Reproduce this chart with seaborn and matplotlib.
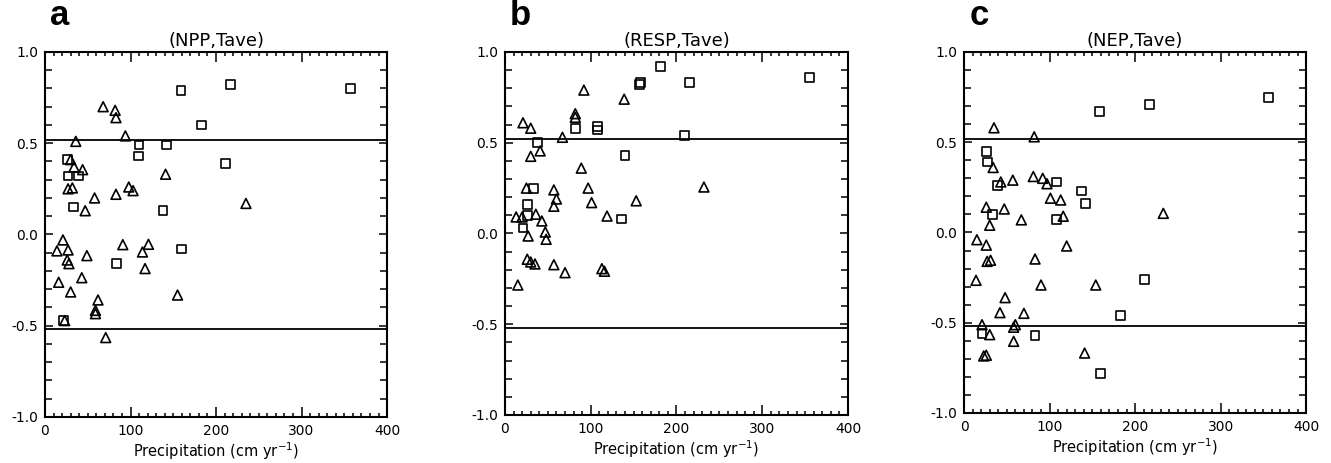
import numpy as np
import pandas as pd
import matplotlib
matplotlib.use("Agg")
import matplotlib.pyplot as plt
import seaborn as sns
from matplotlib.ticker import MultipleLocator

# ---------------- data ----------------
panel_letters = ["a", "b", "c"]
panel_titles = ["(NPP,Tave)", "(RESP,Tave)", "(NEP,Tave)"]
sig_level = 0.52

# (a) NPP
npp_sq_x = [159, 183, 217, 357, 211, 110, 109, 142, 26, 27, 39, 33, 138, 84, 160, 22]
npp_sq_y = [0.79, 0.60, 0.82, 0.80, 0.39, 0.49, 0.43, 0.49, 0.41, 0.32, 0.32, 0.15, 0.13, -0.16, -0.08, -0.47]
npp_tri_x = [68, 82, 83, 94, 36, 30, 34, 44, 141, 27, 32, 98, 103, 83, 58, 47,
             21, 14, 27, 91, 121, 114, 26, 28, 49, 117, 43, 16, 30, 155, 62, 59,
             59, 23, 71, 235]
npp_tri_y = [0.70, 0.68, 0.64, 0.54, 0.51, 0.41, 0.37, 0.355, 0.33, 0.25, 0.255, 0.26, 0.24, 0.22, 0.20, 0.13,
             -0.03, -0.09, -0.085, -0.056, -0.054, -0.096, -0.14, -0.16, -0.116, -0.187, -0.237, -0.262, -0.315, -0.332, -0.359, -0.416,
             -0.434, -0.472, -0.565, 0.17]

# (b) RESP
resp_sq_x = [181, 157, 158, 82, 108, 108, 38, 140, 33, 26, 26, 21, 136, 215, 209, 355]
resp_sq_y = [0.92, 0.82, 0.83, 0.58, 0.59, 0.57, 0.50, 0.43, 0.25, 0.16, 0.10, 0.03, 0.08, 0.83, 0.54, 0.86]
resp_tri_x = [92, 139, 82, 82, 21, 30, 67, 41, 30, 89, 25, 57, 97, 60, 101, 153,
              57, 119, 13, 20, 36, 43, 47, 27, 48, 26, 30, 35, 57, 70, 113, 116,
              15, 232]
resp_tri_y = [0.79, 0.74, 0.66, 0.64, 0.61, 0.58, 0.53, 0.455, 0.425, 0.36, 0.25, 0.24, 0.25, 0.19, 0.17, 0.18,
              0.15, 0.096, 0.091, 0.091, 0.106, 0.069, 0.008, -0.014, -0.032, -0.142, -0.157, -0.168, -0.172, -0.216, -0.194, -0.208,
              -0.284, 0.256]

# (c) NEP
nep_sq_x = [158, 26, 27, 39, 108, 137, 142, 33, 108, 183, 21, 83, 160, 217, 356, 211]
nep_sq_y = [0.67, 0.45, 0.39, 0.26, 0.28, 0.23, 0.16, 0.10, 0.07, -0.46, -0.56, -0.57, -0.78, 0.71, 0.75, -0.26]
nep_tri_x = [35, 82, 34, 43, 57, 81, 92, 97, 101, 113, 116, 26, 47, 67, 30, 15,
             26, 120, 27, 31, 83, 14, 90, 154, 48, 42, 70, 21, 58, 60, 30, 58,
             23, 26, 141, 233]
nep_tri_y = [0.58, 0.53, 0.36, 0.28, 0.29, 0.31, 0.30, 0.27, 0.19, 0.18, 0.09, 0.14, 0.13, 0.07, 0.04, -0.04,
             -0.07, -0.075, -0.16, -0.154, -0.147, -0.265, -0.291, -0.291, -0.361, -0.444, -0.448, -0.511, -0.525, -0.511, -0.566, -0.603,
             -0.684, -0.68, -0.668, 0.106]

panels = [
    (npp_sq_x, npp_sq_y, npp_tri_x, npp_tri_y),
    (resp_sq_x, resp_sq_y, resp_tri_x, resp_tri_y),
    (nep_sq_x, nep_sq_y, nep_tri_x, nep_tri_y),
]

# ---------------- style ----------------
sns.set_style("ticks")
plt.rcParams["font.family"] = ["DejaVu Sans"]
plt.rcParams.update({
    "axes.linewidth": 1.5,
    "axes.edgecolor": "black",
    "text.color": "black",
    "axes.labelcolor": "black",
    "xtick.color": "black",
    "ytick.color": "black",
})

fig = plt.figure(figsize=(13.31, 4.63), dpi=100)
rects = [
    [0.0338, 0.0994, 0.2570, 0.7884],
    [0.3794, 0.1037, 0.2577, 0.7840],
    [0.7243, 0.1080, 0.2570, 0.7797],
]

for rect, letter, title, (sx, sy, tx, ty) in zip(rects, panel_letters, panel_titles, panels):
    ax = fig.add_axes(rect)
    df = pd.concat([
        pd.DataFrame({"precip": sx, "corr": sy, "kind": "square"}),
        pd.DataFrame({"precip": tx, "corr": ty, "kind": "triangle"}),
    ], ignore_index=True)

    sns.scatterplot(data=df[df["kind"] == "square"], x="precip", y="corr", ax=ax,
                    marker="s", s=40, facecolor="none", edgecolor="black", linewidth=1.2,
                    legend=False, zorder=3)
    sns.scatterplot(data=df[df["kind"] == "triangle"], x="precip", y="corr", ax=ax,
                    marker="^", s=50, facecolor="none", edgecolor="black", linewidth=1.2,
                    legend=False, zorder=3)

    ax.axhline(sig_level, color="black", lw=1.3)
    ax.axhline(-sig_level, color="black", lw=1.3)

    ax.set_xlim(0, 400)
    ax.set_ylim(-1.0, 1.0)
    ax.xaxis.set_major_locator(MultipleLocator(100))
    ax.xaxis.set_minor_locator(MultipleLocator(10))
    ax.yaxis.set_major_locator(MultipleLocator(0.5))
    ax.yaxis.set_minor_locator(MultipleLocator(0.1))
    ax.yaxis.set_major_formatter(plt.FormatStrFormatter("%.1f"))
    ax.tick_params(which="both", direction="in", top=True, right=True, width=1.1, labelsize=10, pad=5)
    ax.tick_params(axis="x", which="major", length=7)
    ax.tick_params(axis="x", which="minor", length=3)
    ax.tick_params(axis="y", which="major", length=6)
    ax.tick_params(axis="y", which="minor", length=5)
    for sp in ax.spines.values():
        sp.set_linewidth(1.5)
        sp.set_color("black")

    ax.set_xlabel("Precipitation (cm yr$^{-1}$)", fontsize=10.5, labelpad=2)
    ax.set_ylabel("")
    ax.set_title(title, fontsize=13, pad=4)
    ax.text(0.015, 1.074, letter, transform=ax.transAxes, fontsize=25, fontweight="bold",
            family=["Liberation Sans", "DejaVu Sans"], va="baseline", ha="left")

fig.savefig("out.png", dpi=100)
